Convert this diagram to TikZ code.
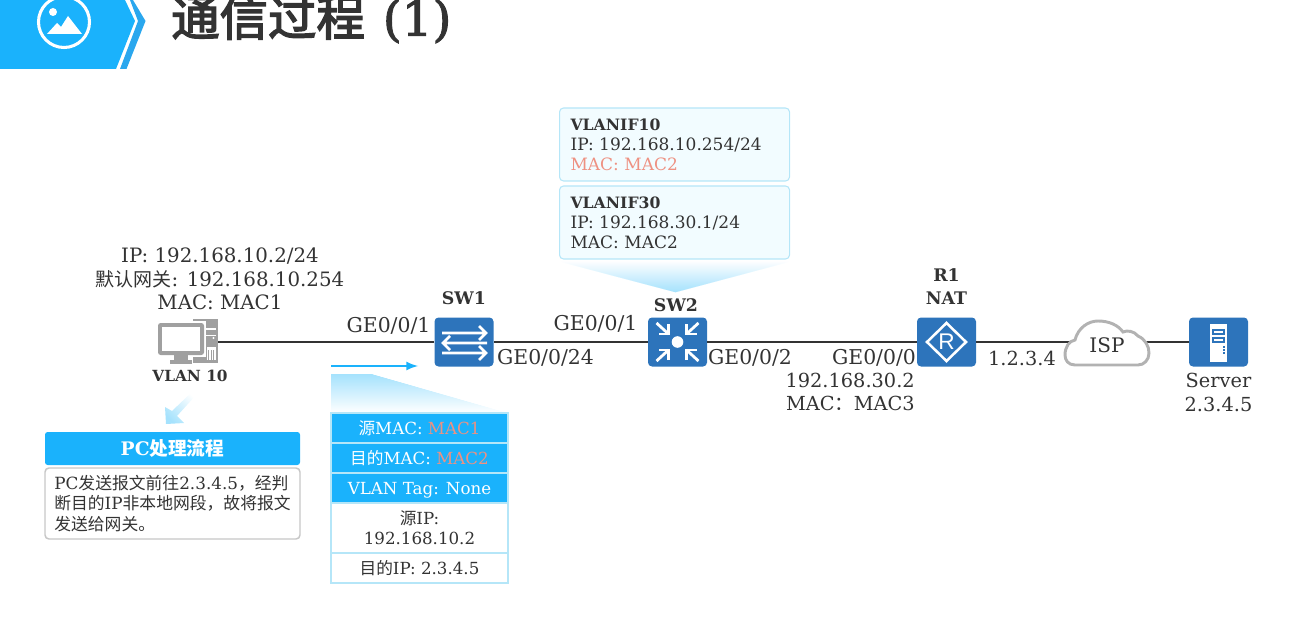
\documentclass[tikz,border=0pt]{standalone}
\usepackage{fontspec}
\usepackage{xcolor}
\setmainfont{DejaVu Serif}
\newfontfamily\cjk{Noto Sans CJK SC}
\newfontfamily\cjktitle[FakeBold=3]{Noto Sans CJK SC}
\newfontfamily\serftitle[FakeBold=2]{DejaVu Serif}
\newfontfamily\iconfont{Liberation Sans}
\usetikzlibrary{arrows,positioning}
\definecolor{hwblue}{HTML}{1AB2FC}
\definecolor{chevblue}{HTML}{2AA7EE}
\definecolor{iconblue}{HTML}{2D74BB}
\definecolor{paleblue}{HTML}{F2FCFF}
\definecolor{edgeblue}{HTML}{B5E6F8}
\definecolor{fadeblue}{HTML}{A5E2FD}
\definecolor{salmon}{HTML}{EE9182}
\definecolor{inkgrey}{HTML}{333333}
\definecolor{pcgrey}{HTML}{A0A0A0}
\newcommand{\zh}[1]{{\cjk #1}}
\newcommand{\fs}[2]{\fontsize{#1}{#2}\selectfont}
\def\px{.75pt}

\begin{document}
\begin{tikzpicture}[x=.75pt,y=-.75pt,line cap=butt]
\useasboundingbox (0,0) rectangle (1313,620);
\tikzstyle{lbl} = [text=inkgrey, inner sep=0pt, align=center, font=\fs{15.3}{17.5}]
\tikzstyle{lblsmall} = [lbl, font=\fs{14.5}{17.5}]
\tikzstyle{devname} = [text=inkgrey, inner sep=0pt, align=center, font=\fs{13}{17.25}\bfseries]
\tikzstyle{iconbox} = [fill=iconblue, rounded corners=3pt, minimum width=59*\px, minimum height=49*\px, inner sep=0pt]
\tikzstyle{infobox} = [draw=edgeblue, fill=paleblue, line width=.8pt, rounded corners=3pt, text=inkgrey, align=left, anchor=west, inner sep=0pt, minimum width=230*\px, minimum height=73*\px, font=\fs{12.75}{15}]
\tikzstyle{blueline} = [fill=hwblue, draw=edgeblue, line width=.8pt, text=white, minimum width=177*\px, inner sep=0pt, minimum height=30*\px, align=center, font=\fs{12.5}{15}]
\tikzstyle{whiteline} = [blueline, fill=white, text=inkgrey]
\tikzstyle{rowtext} = [text height=11pt, text depth=1.5pt]
\tikzstyle{link} = [draw=inkgrey, line width=1.3pt]
\tikzstyle{iconmark} = [white, line width=2.1pt]

% header
\fill[hwblue] (0,0) -- (125,0) -- (135,21) -- (116,69) -- (0,69) -- cycle;
\fill[chevblue] (130,0) -- (133,0) -- (145.5,21) -- (126.5,69) -- (120,69) -- (138,21) -- cycle;
\draw[white, line width=2.3pt] (64,22) circle (25.5);
\fill[white] (53,12) circle (4);
\fill[white] (47,34) -- (57,23) -- (61,27) -- (68,16) -- (82,34) -- cycle;
\node (title) [anchor=west, text=inkgrey, inner sep=0pt, font=\fs{36.3}{40}] at (171,19) {{\cjktitle 通信过程}\hspace{13.5pt}{\serftitle (1)}};

% devices
\node (pc) [minimum width=60*\px, minimum height=47*\px, inner sep=0pt] at (188,342) {};
\fill[pcgrey] (193,319) rectangle (218,363);
\fill[white] (204,328) rectangle (216,330);
\fill[white] (204,335) rectangle (216,336);
\fill[white] (213.5,338) circle (1.2);
\fill[white] (207,347) rectangle (216,360);
\foreach \bx in {208,210.5,213}
	\fill[pcgrey] (\bx,350) rectangle (\bx+1,360);
\fill[white] (156,321) rectangle (206,357);
\fill[pcgrey, rounded corners=2pt] (158,323) rectangle (204,355);
\fill[white] (162,327) rectangle (200,351);
\fill[pcgrey] (174,355) rectangle (188,360);
\fill[pcgrey] (170,360) rectangle (192,364);

\node (sw1) [iconbox] at (464,342) {}
	edge [link] (pc);
\node (sw2) [iconbox] at (677.5,342) {}
	edge [link] (sw1);
\node (r1) [iconbox, text=white, font=\fs{17}{17}\iconfont] at (946.5,342) {R}
	edge [link] (sw2);
\node (isp) [inner sep=0pt, minimum width=70*\px, minimum height=30*\px] at (1107,342) {}
	edge [link, line width=1pt] (r1);
\node (srv) [iconbox] at (1218.5,342) {}
	edge [link, line width=1pt] (isp);

% icon marks
\foreach \ay/\ax/\aend/\abar in {333/442/486/479, 353/442/486/479, 343/487/443/450}
	\draw[iconmark] (\ax,\ay) -- (\aend,\ay) (\abar,\ay-7) -- (\aend,\ay) -- (\abar,\ay+7);
\fill[white] (677.5,342) circle (5.8);
\foreach \sx/\sy in {1/1,1/-1,-1/1,-1/-1}
{
	\draw[iconmark] ({677.5+21*\sx},{342+19*\sy}) -- ({677.5+9*\sx},{342+8*\sy});
	\draw[iconmark] ({677.5+9*\sx},{342+18*\sy}) -- ({677.5+9*\sx},{342+8*\sy}) -- ({677.5+19*\sx},{342+8*\sy});
}
\draw[white, line width=1.9pt] (946.5,323) -- (966,342) -- (946.5,361) -- (927,342) -- cycle;
\fill[white] (1210,324) rectangle (1227,362);
\draw[iconblue, line width=.8pt] (1213,330) rectangle (1224,334);
\draw[iconblue, line width=.8pt] (1213,338) rectangle (1224,342);
\foreach \dy in {346,349,352}
	\fill[iconblue] (1223,\dy) rectangle (1225,\dy+1.5);
\draw[draw=black!30, fill=white, line width=2.2pt] (1075,365) .. controls (1068,365) and (1065,360) .. (1065,355) .. controls (1065,347) and (1069,341) .. (1075,340) .. controls (1078,328) and (1088,321) .. (1098,321) .. controls (1109,321) and (1118,325) .. (1123,332) .. controls (1127,330) and (1134,331) .. (1138,336) .. controls (1145,339) and (1149,346) .. (1149,353) .. controls (1149,360) and (1144,365) .. (1138,365) -- cycle;

% labels
\node (pcinfo) [lblsmall, font=\fs{14.85}{17.5}] at (220,279) {IP: 192.168.10.2/24\\{\fs{14.25}{17.5}\cjk 默认网关}: 192.168.10.254\\MAC: MAC1};
\node (vlan) [devname, font=\fs{11.5}{14}\bfseries] at (190,376) {VLAN 10};
\node (sw1name) [devname] at (464,298) {SW1};
\node (sw2name) [devname] at (676,305) {SW2};
\node (r1name) [devname] at (946.5,286.5) {R1\\NAT};
\node (p1) [lbl] at (388.5,326) {GE0/0/1};
\node (p2) [lbl] at (545.5,358) {GE0/0/24};
\node (p3) [lbl] at (595.5,324) {GE0/0/1};
\node (p4) [lbl] at (750,358) {GE0/0/2};
\node (p5) [lbl] at (874,358) {GE0/0/0};
\node (r1info) [lblsmall, align=right, anchor=east] at (915,392) {192.168.30.2\\MAC\zh{：}MAC3};
\node (wan) [lblsmall] at (1022,358) {1.2.3.4};
\node (ispname) [lbl, font=\fs{15}{17.5}] at (1107,345) {ISP};
\node (srvname) [lblsmall] at (1218.5,392.5) {Server\\2.3.4.5};

% sw2 callout
\foreach \sy in {261,...,291}
{
	\pgfmathsetmacro{\sp}{100*(\sy-261)/31}
	\fill[fadeblue!\sp!white] ({558+(\sy-261)*3.79},\sy) -- ({792-(\sy-261)*3.76},\sy) -- ({792-(\sy-260)*3.76},\sy+1.4) -- ({558+(\sy-260)*3.79},\sy+1.4) -- cycle;
}
\node (vif10) [infobox] at (559,144.5) {\begin{minipage}{156pt}\fs{12.75}{15}{\fs{11.75}{15}\bfseries VLANIF10}\\IP: 192.168.10.254/24\\\textcolor{salmon}{MAC: MAC2}\end{minipage}};
\node (vif30) [infobox] at (559,222.5) {\begin{minipage}{156pt}\fs{12.75}{15}{\fs{11.75}{15}\bfseries VLANIF30}\\IP: 192.168.30.1/24\\MAC: MAC2\end{minipage}};

% direction arrow
\coordinate (dirs) at (331,366);
\coordinate (dirt) at (418,366);
\draw[hwblue, line width=2pt, -latex] (dirs) -- (dirt);

% frame table
\foreach \sy in {374,...,412}
{
	\pgfmathsetmacro{\sp}{100*(413-\sy)/39}
	\fill[fadeblue!\sp!white] (331,\sy) -- ({372+(\sy-374)*3.49},\sy) -- ({372+(\sy-373)*3.49},\sy+1.4) -- (331,\sy+1.4) -- cycle;
}
\node (smac) [blueline, rowtext] at (419.5,428) {\zh{源}MAC: \textcolor{salmon}{MAC1}};
\node (dmac) [blueline, rowtext] at (419.5,458) {\zh{目的}MAC: \textcolor{salmon}{MAC2}};
\node (tag) [blueline, rowtext] at (419.5,488) {VLAN Tag: None};
\node (sip) [whiteline, minimum height=50*\px] at (419.5,528) {\zh{源}IP:\\192.168.10.2};
\node (dip) [whiteline, rowtext] at (419.5,568) {\zh{目的}IP: 2.3.4.5};

% pc process
\shade[shading=axis, top color=white, bottom color=fadeblue, shading angle=-45] (193,391) -- (197,394) -- (177,416) -- (184,423) -- (166,424) -- (165,407) -- (172,411) -- cycle;
\node (flowhead) [fill=hwblue, rounded corners=2pt, text=white, minimum width=255*\px, minimum height=33*\px, inner sep=0pt, font=\fs{14}{15}\bfseries] at (172.5,448.5) {PC\zh{处理流程}};
\node (flowtext) [draw=black!22, fill=white, line width=1.1pt, rounded corners=3pt, text=inkgrey, minimum width=255*\px, minimum height=71*\px, inner sep=0pt, align=left, font=\fs{12.6}{15.3}] at (172.5,503.5) {PC\zh{发送报文前往}2.3.4.5\zh{，经判}\\\zh{断目的}IP\zh{非本地网段，故将报文}\\\zh{发送给网关。}};
\end{tikzpicture}
\end{document}
